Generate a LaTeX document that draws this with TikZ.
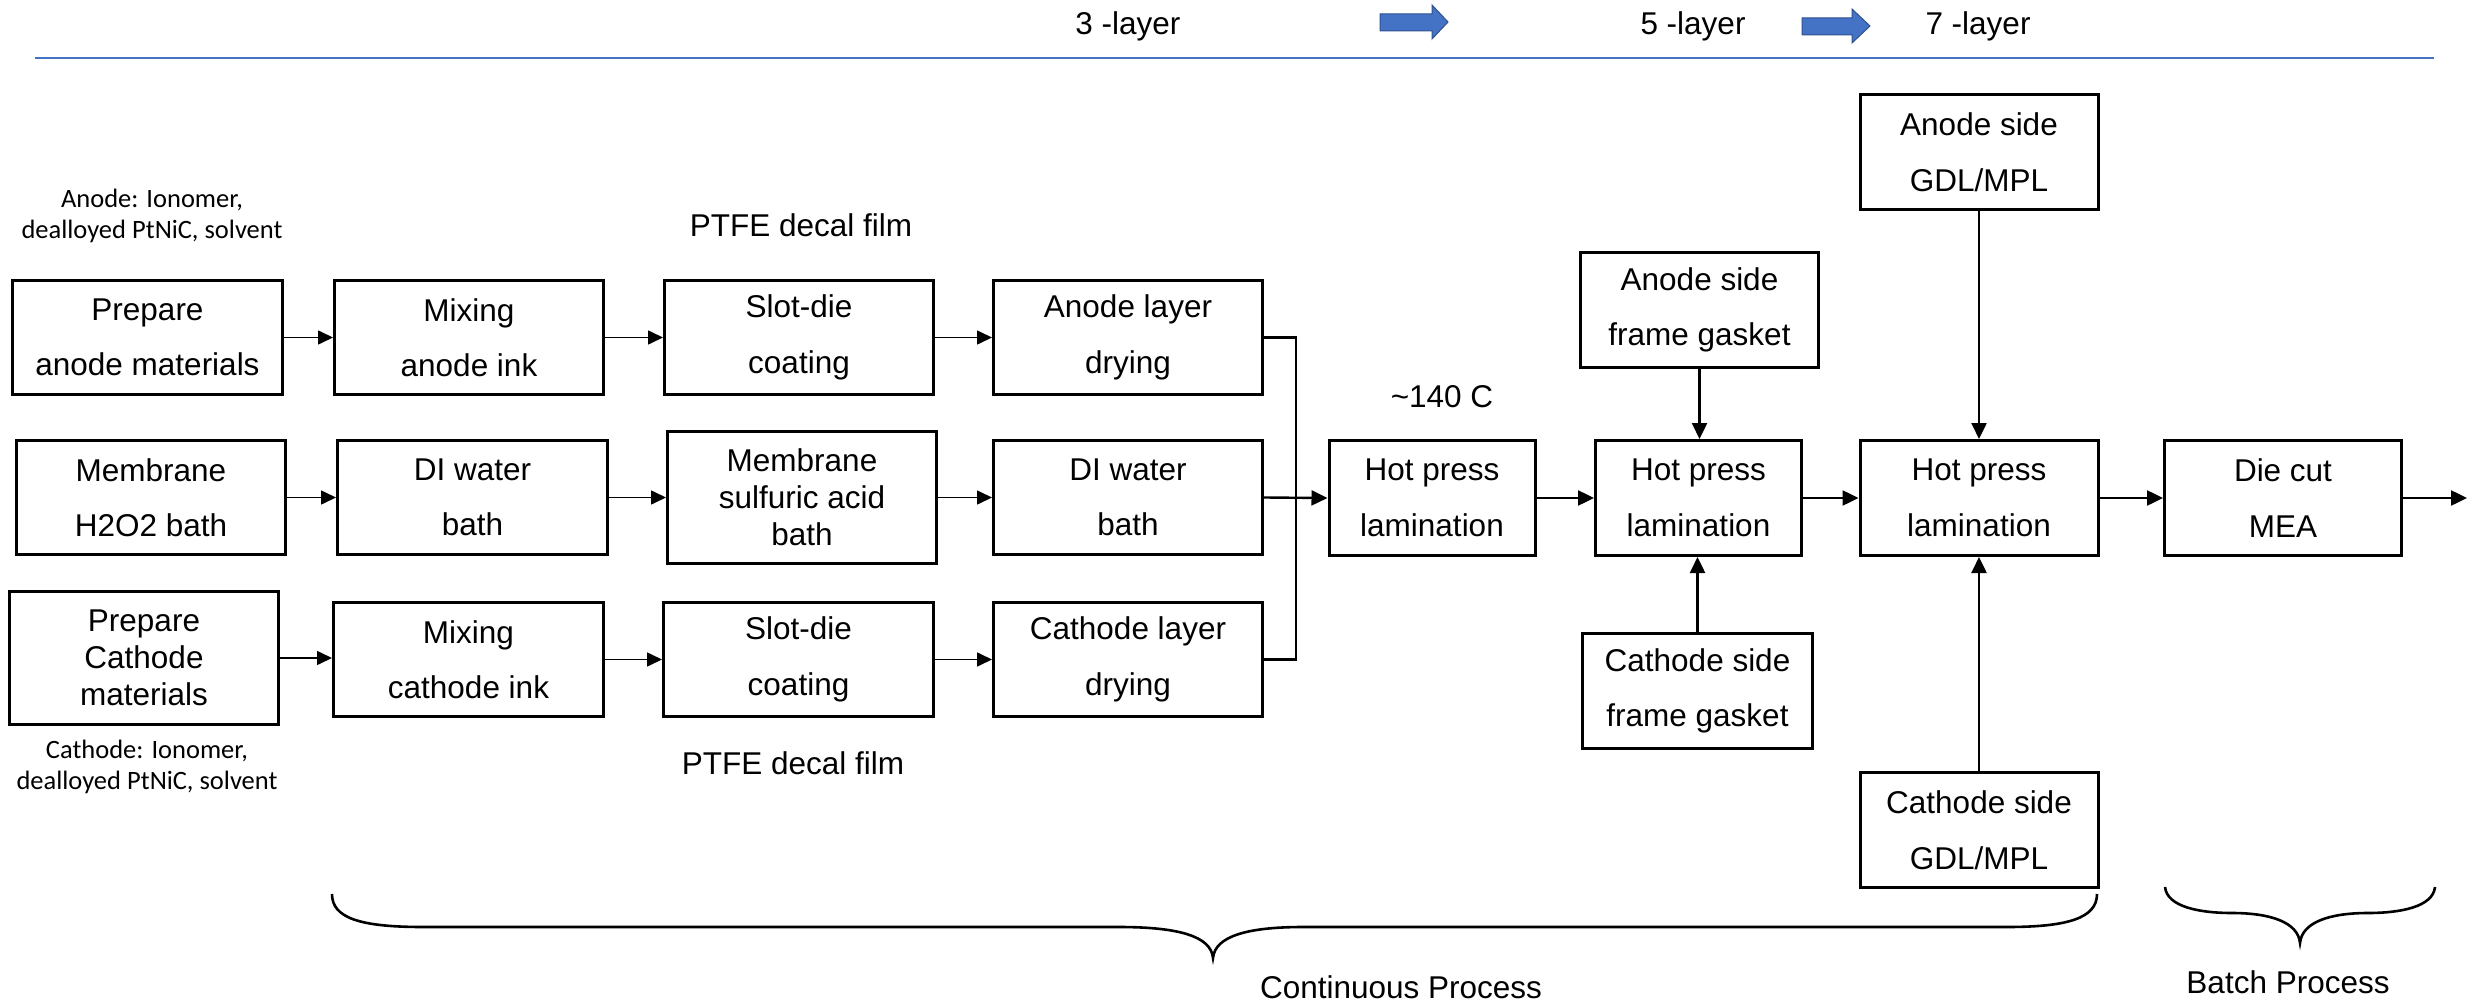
\documentclass[tikz,border=0pt]{standalone}
\usepackage{fontspec}
\setmainfont{Liberation Sans}
\newfontfamily\notefont{Carlito}
\usetikzlibrary{arrows.meta}
\definecolor{layerblue}{HTML}{4472C4}
\definecolor{layeredge}{HTML}{2F528F}

\begin{document}
\begin{tikzpicture}[x=1pt,y=-1pt,
  proc/.style 2 args={draw, line width=3pt, inner sep=0pt, align=center,
    font=\fontsize{31.5}{55.5}\selectfont, minimum width=#1, minimum height=#2},
  tri/.style={font=\fontsize{31.5}{37}\selectfont},
  caption/.style={inner sep=0pt, font=\fontsize{31.5}{37}\selectfont},
  note/.style={inner sep=0pt, align=center, font=\notefont\fontsize{26.5}{30.5}\selectfont},
  flow/.style={line width=1.6pt, -{Triangle[length=15pt,width=14pt]}},
  feed/.style={line width=2.4pt, -{Triangle[length=16pt,width=15pt]}},
  plain/.style={line width=2.4pt},
  bracepath/.style={line width=2.6pt},
  blockarrow/.style={fill=layerblue, draw=layeredge, line width=1pt}]

\useasboundingbox (0,0) rectangle (2476,1003);

% layer count header
\node[caption, anchor=base] (l3) at (1128,35) {3 -layer};
\node[caption, anchor=base] (l5) at (1693,35) {5 -layer};
\node[caption, anchor=base] (l7) at (1978,35) {7 -layer};
\draw[blockarrow] (1380,14) -- (1432,14) -- (1432,5) -- (1448,22) -- (1432,39) -- (1432,31) -- (1380,31) -- cycle;
\draw[blockarrow] (1802,18) -- (1852,18) -- (1852,9) -- (1870,26) -- (1852,43) -- (1852,35) -- (1802,35) -- cycle;
\coordinate (ruleL) at (35,58);
\coordinate (ruleR) at (2434,58);
\draw[layerblue, line width=1.8pt] (ruleL) -- (ruleR);

% material notes
\node[note] (anote) at (152,216) {Anode: Ionomer,\\dealloyed PtNiC, solvent};
\node[note] (cnote) at (147,767) {Cathode: Ionomer,\\dealloyed PtNiC, solvent};

% anode line
\node[proc={270}{114}] (pa) at (147.5,337.5) {Prepare\\anode materials};
\node[proc={269}{114}] (ma) at (469,337.5) {Mixing\\anode ink};
\node[proc={269}{114}] (sa) at (799,337.5) {Slot-die\\coating};
\node[proc={269}{114}] (da) at (1128,337.5) {Anode layer\\drying};

% membrane line
\node[proc={269}{114}] (mh) at (151,497.5) {Membrane\\H2O2 bath};
\node[proc={270}{114}] (dw1) at (472.5,497.5) {DI water\\bath};
\node[proc={269}{132}, tri] (ms) at (802,497.5) {Membrane\\sulfuric acid\\bath};
\node[proc={269}{114}] (dw2) at (1128,497.5) {DI water\\bath};

% cathode line
\node[proc={269}{133}, tri] (pc) at (144,658) {Prepare\\Cathode\\materials};
\node[proc={270}{114}] (mc) at (468.5,659.5) {Mixing\\cathode ink};
\node[proc={270}{114}] (sc) at (798.5,659.5) {Slot-die\\coating};
\node[proc={269}{114}] (dc) at (1128,659.5) {Cathode layer\\drying};

\node[caption] (ptfeA) at (801,225) {PTFE decal film};
\node[caption] (ptfeC) at (793,763) {PTFE decal film};

% lamination stages
\node[proc={206}{115}] (hp1) at (1432,498) {Hot press\\lamination};
\node[proc={206}{115}] (hp2) at (1698.5,498) {Hot press\\lamination};
\node[proc={238}{115}] (ag) at (1699.5,310) {Anode side\\frame gasket};
\node[proc={230}{115}] (cg) at (1697.5,691) {Cathode side\\frame gasket};
\node[proc={238}{115}] (hp3) at (1979,498) {Hot press\\lamination};
\node[proc={238}{115}] (agdl) at (1979,152) {Anode side\\GDL/MPL};
\node[proc={238}{115}] (cgdl) at (1979,830) {Cathode side\\GDL/MPL};
\node[proc={237}{115}] (mea) at (2283,498) {Die cut\\MEA};
\node[caption] (temp) at (1442,397) {\textasciitilde 140 C};
\coordinate (out) at (2467,498);

% connectors, left part
\draw[flow] (pa.east) -- (ma.west);
\draw[flow] (ma.east) -- (sa.west);
\draw[flow] (sa.east) -- (da.west);
\draw[flow] (mh.east) -- (dw1.west);
\draw[flow] (dw1.east) -- (ms.west);
\draw[flow] (ms.east) -- (dw2.west);
\draw[flow] (pc.east) -- (pc.east -| mc.west);
\draw[flow] (mc.east) -- (sc.west);
\draw[flow] (sc.east) -- (dc.west);

% merge of the three layers
\coordinate (merge) at (1296,498);
\draw[plain] (da.east) -| (merge) |- (dc.east);
\draw[feed] (dw2.east) -- (hp1.west);

% connectors, lamination part
\draw[feed] (hp1.east) -- (hp2.west);
\draw[feed] (hp2.east) -- (hp3.west);
\draw[feed] (hp3.east) -- (mea.west);
\draw[feed] (mea.east) -- (out);
\draw[feed] (ag.south) -- (ag.south |- hp2.north);
\draw[feed] (cg.north) -- (cg.north |- hp2.south);
\draw[feed] (agdl.south) -- (hp3.north);
\draw[feed] (cgdl.north) -- (hp3.south);

% process braces
\draw[bracepath] (332,894) .. controls (332,918) and (360,927) .. (423,927)
  -- (1119,927) .. controls (1178,927) and (1211,936) .. (1213,958)
  .. controls (1215,936) and (1248,927) .. (1303,927)
  -- (2007,927) .. controls (2068,927) and (2097,918) .. (2097,894);
\draw[bracepath] (2165,887) .. controls (2167,907) and (2200,913) .. (2232,913)
  .. controls (2270,913) and (2298,922) .. (2300,943)
  .. controls (2302,922) and (2330,913) .. (2368,913)
  .. controls (2400,913) and (2433,907) .. (2435,887);
\node[caption, anchor=base] (cont) at (1401,998) {Continuous Process};
\node[caption, anchor=base] (batch) at (2288,993) {Batch Process};
\end{tikzpicture}
\end{document}
